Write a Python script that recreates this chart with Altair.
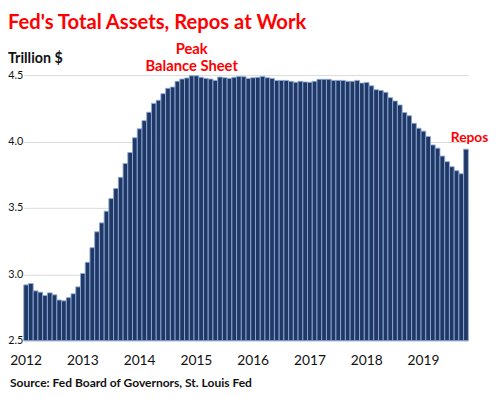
import altair as alt
import pandas as pd

years = ["2012", "2013", "2014", "2015", "2016", "2017", "2018", "2019"]

# Fed total assets, trillion $, monthly Jan 2012 - Oct 2019
assets = [
    2.92, 2.93, 2.875, 2.865, 2.84, 2.86, 2.845, 2.806, 2.80, 2.824, 2.853, 2.905,
    3.006, 3.09, 3.20, 3.32, 3.387, 3.475, 3.57, 3.646, 3.73, 3.835, 3.917, 4.028,
    4.095, 4.157, 4.22, 4.287, 4.31, 4.36, 4.40, 4.41, 4.453, 4.47, 4.478, 4.495,
    4.495, 4.483, 4.475, 4.47, 4.46, 4.485, 4.48, 4.475, 4.483, 4.49, 4.488, 4.475,
    4.48, 4.483, 4.49, 4.48, 4.475, 4.46, 4.46, 4.46, 4.453, 4.446, 4.453, 4.448,
    4.446, 4.453, 4.468, 4.468, 4.468, 4.46, 4.46, 4.46, 4.453, 4.453, 4.46, 4.44,
    4.445, 4.419, 4.39, 4.384, 4.37, 4.33, 4.305, 4.275, 4.218, 4.194, 4.137, 4.10,
    4.078, 4.038, 3.974, 3.95, 3.89, 3.848, 3.81, 3.78, 3.757, 3.942,
]
y_ticks = [2.5, 3.0, 3.5, 4.0, 4.5]

months = [p.strftime("%Y-%m") for p in pd.period_range("2012-01", periods=len(assets), freq="M")]
df = pd.DataFrame({"month": months, "assets": assets})

RED = "#FF0000"
FONT = "Lato"

x_enc = alt.X(
    "month:O",
    scale=alt.Scale(paddingInner=0, paddingOuter=0),
    axis=alt.Axis(
        values=[f"{y}-01" for y in years],
        labelExpr="slice(datum.value, 0, 4)",
        labelAngle=0, ticks=False, domain=False, grid=False,
        labelFont=FONT, labelFontSize=14, labelColor="#111111",
        labelPadding=13, title=None,
    ),
)
y_enc = alt.Y(
    "assets:Q",
    scale=alt.Scale(domain=[2.5, 4.5], zero=False, nice=False),
    axis=alt.Axis(
        values=y_ticks, format=".1f", ticks=False, domain=False,
        gridColor="#D9D9D9", gridWidth=1,
        labelFont=FONT, labelFontSize=11, labelColor="#111111",
        labelPadding=1, title=None,
    ),
)

bars = alt.Chart(df).mark_bar(
    fill="#1F3864", stroke="#8EA9DB", strokeWidth=0.9
).encode(x=x_enc, y=y_enc, y2=alt.datum(2.5))

peak = alt.Chart(pd.DataFrame({"month": ["2014-12"], "level": [4.5]})).mark_text(
    text=["Peak", "Balance Sheet"], font=FONT, fontWeight="bold", fontSize=15,
    color=RED, align="center", baseline="alphabetic", lineHeight=17, dy=-21,
).encode(x="month:O", y="level:Q")

repos = alt.Chart(pd.DataFrame({"month": ["2019-07"], "level": [4.0]})).mark_text(
    text="Repos", font=FONT, fontWeight="bold", fontSize=14,
    color=RED, align="left", baseline="alphabetic", dx=-1, dy=1,
).encode(x="month:O", y="level:Q")

one = pd.DataFrame({"k": [0]})
title = alt.Chart(one).mark_text(
    text="Fed's Total Assets, Repos at Work", font=FONT, fontWeight="bold",
    fontSize=20.5, color=RED, align="left", baseline="alphabetic",
).encode(x=alt.value(-16), y=alt.value(-47))

unit = alt.Chart(one).mark_text(
    text="Trillion $", font=FONT, fontWeight="bold", fontSize=14.5,
    color="#111111", align="left", baseline="alphabetic",
).encode(x=alt.value(-16), y=alt.value(-12))

source = alt.Chart(one).mark_text(
    text="Source: Fed Board of Governors, St. Louis Fed", font=FONT, fontWeight="bold",
    fontSize=12.2, color="#111111", align="left", baseline="alphabetic",
).encode(x=alt.value(-14), y=alt.value(317))

chart = alt.layer(bars, peak, repos, title, unit, source).properties(
    width=452, height=270,
    autosize=alt.AutoSizeParams(type="none"),
    padding={"left": 16, "top": 65, "right": 21, "bottom": 51},
).configure_view(stroke=None)

chart.save("out.html", embed_options={"renderer": "svg", "actions": False})
